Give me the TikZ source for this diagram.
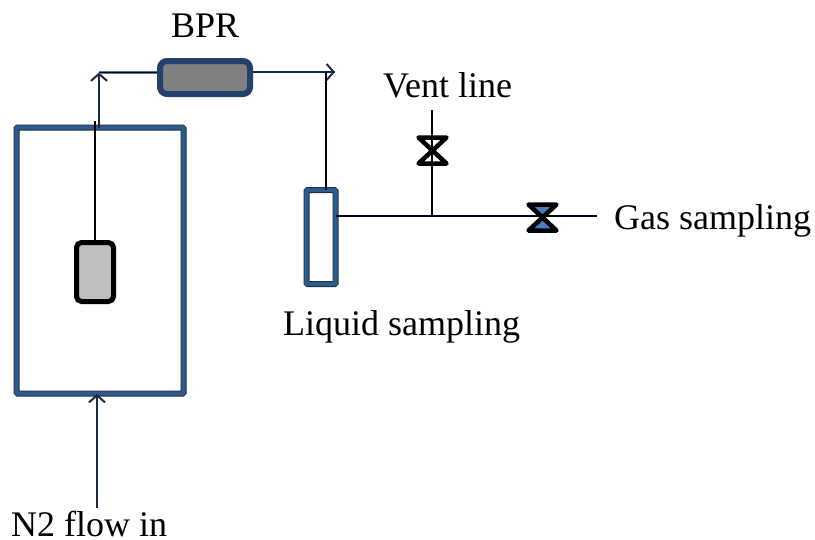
\documentclass[tikz,border=0pt]{standalone}
\usepackage{fontspec}
\setmainfont{Liberation Serif}
\usetikzlibrary{arrows.meta}
\definecolor{vblue}{HTML}{2F5A8C}
\definecolor{vdark}{HTML}{1C2B40}
\definecolor{bprblue}{HTML}{24416B}
\definecolor{halo}{HTML}{5A7494}
\definecolor{vfill}{HTML}{4A7EBB}
\tikzset{
  vessel/.style={draw=vdark,line width=0.8pt,double=vblue,double distance=4.4pt,rounded corners=1pt,inner sep=0pt,outer sep=0pt,anchor=center},
  sampleblock/.style={draw=black,line width=5pt,fill=black!25,rounded corners=5pt,inner sep=0pt,outer sep=2.5pt},
  bprblock/.style={draw=bprblue,line width=6pt,fill=black!50,rounded corners=7pt,inner sep=0pt,outer sep=3pt},
  pipe/.style={draw=black!90!blue,line width=1.1pt,preaction={draw=halo,line width=2.4pt}},
  barb/.style={-{Straight Barb[length=7pt,width=16pt,line width=2pt]}},
  label/.style={font=\fontsize{36}{36}\selectfont,inner sep=0pt,anchor=base west,text=black},
  valvept/.style={inner sep=0pt,minimum size=0pt,outer sep=0pt},
  bowtie/.style={draw=black,line width=4.5pt,line join=round},
}
\newcommand{\bowtieat}[2]{%
  \draw[bowtie,fill=#2] (#1)++(-14,-13) -- ++(28,0) -- ++(-28,26) -- ++(28,0) -- cycle;
}
\begin{document}
\begin{tikzpicture}[x=1pt,y=-1pt]
\useasboundingbox (0,0) rectangle (815,539);
% nodes
\node[vessel,minimum width=167pt,minimum height=266pt] (reactor) at (100,260.5) {};
\node[sampleblock,minimum width=37pt,minimum height=59pt] (sample) at (95,272) {};
\node[bprblock,minimum width=90pt,minimum height=33pt] (bpr) at (205,77.5) {};
\node[vessel,minimum width=29pt,minimum height=94pt] (trap) at (321,237) {};
\node[valvept] (ventvalve) at (432.5,150.5) {};
\node[valvept] (gasvalve) at (542.5,217.5) {};
\coordinate (risebottom) at (99,128);
\coordinate (risetop) at (99,72.5);
\coordinate (sampletop) at (95,121);
\coordinate (drop) at (326,72);
\coordinate (dropend) at (335,72);
\coordinate (junction) at (432,216);
\coordinate (ventend) at (432,110);
\coordinate (gasend) at (597,216);
\coordinate (flowstart) at (97,508);
\coordinate (flowend) at (97,394);
% connectors
\draw[line width=2pt,black] (sample.north) -- (sample.north |- sampletop);
\draw[pipe] (risebottom) -- (risetop);
\draw[barb,line width=2pt,vdark] (risebottom) -- (risetop);
\draw[pipe] (risetop) -- (bpr.west |- risetop);
\draw[pipe] (bpr.east |- dropend) -- (dropend);
\draw[barb,line width=1.2pt,vdark] (bpr.east |- dropend) -- (dropend);
\draw[pipe] (drop) -- (drop |- trap.north);
\draw[pipe] (trap.east |- junction) -- (gasend);
\bowtieat{ventvalve}{white}
\bowtieat{gasvalve}{vfill}
\draw[pipe] (ventend) -- (junction);
\draw[barb,line width=2pt,vdark] (flowstart) -- (flowend);
% labels
\node[label] (bprlabel) at (171,37) {BPR};
\begin{scope}
\clip (370,60) rectangle (511,110);
\node[label] (ventlabel) at (383,97) {Vent line};
\end{scope}
\node[label] (gaslabel) at (614,229) {Gas sampling};
\node[label] (liquidlabel) at (283,335) {Liquid sampling};
\node[label] (flowlabel) at (11,536) {N2 flow in};
\end{tikzpicture}
\end{document}
